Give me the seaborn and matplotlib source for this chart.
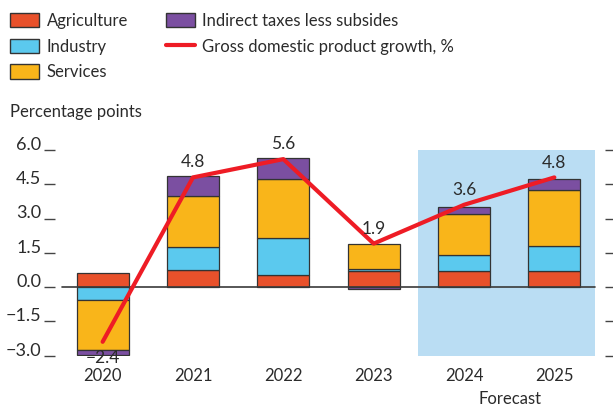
import numpy as np
import pandas as pd
import matplotlib
matplotlib.use("Agg")
import matplotlib.pyplot as plt
import seaborn as sns
from matplotlib.patches import Patch, Rectangle
from matplotlib.lines import Line2D

years = ["2020", "2021", "2022", "2023", "2024", "2025"]
agriculture = [0.63, 0.73, 0.54, 0.69, 0.72, 0.68]
industry = [-0.58, 1.00, 1.61, 0.10, 0.66, 1.10]
services = [-2.17, 2.25, 2.57, 1.11, 1.81, 2.45]
indirect = [-0.22, 0.86, 0.91, -0.10, 0.32, 0.49]
gdp = [-2.4, 4.8, 5.6, 1.9, 3.6, 4.8]
gdp_labels = ["\u22122.4", "4.8", "5.6", "1.9", "3.6", "4.8"]
yticks = [-3.0, -1.5, 0.0, 1.5, 3.0, 4.5, 6.0]
ytick_labels = ["\u22123.0", "\u22121.5", "0.0", "1.5", "3.0", "4.5", "6.0"]

sns.set_style("white")
plt.rcParams["font.family"] = ["Lato", "DejaVu Sans"]
plt.rcParams["ytick.alignment"] = "baseline"

C_AGR = "#E8512B"
C_IND = "#5BC9EE"
C_SER = "#F9B51A"
C_TAX = "#7B4FA1"
C_GDP = "#EE1C25"
C_SHADE = "#BADDF3"
C_TXT = "#2b2b2b"
EDGE = "#333333"

fig = plt.figure(figsize=(6.13, 4.07), dpi=100)
ax = fig.add_axes([62/613, (407-355.5)/407, (595-62)/613, (355.5-150)/407])

x = np.arange(len(years))
ax.add_patch(Rectangle((3.49, -3.0), 5.45 - 3.49, 9.0, facecolor=C_SHADE,
                       edgecolor="none", zorder=0))

series = [("Agriculture", agriculture, C_AGR), ("Industry", industry, C_IND),
          ("Services", services, C_SER), ("Indirect taxes less subsides", indirect, C_TAX)]
pos_base = np.zeros(len(years))
neg_base = np.zeros(len(years))
for name, vals, col in series:
    v = np.array(vals)
    bottoms = np.where(v >= 0, pos_base, neg_base)
    df = pd.DataFrame({"year": years, "val": v})
    sns.barplot(data=df, x="year", y="val", bottom=bottoms, color=col,
                saturation=1, width=0.575, edgecolor=EDGE, linewidth=0.9,
                errorbar=None, ax=ax, zorder=2)
    pos_base = pos_base + np.where(v >= 0, v, 0)
    neg_base = neg_base + np.where(v < 0, v, 0)

ax.plot([-0.45, 5.45], [0, 0], color="#3a3a3a", lw=1.2, zorder=3, clip_on=False)
ax.plot(x, gdp, color=C_GDP, lw=3.0, zorder=4, solid_capstyle="round")

tops = np.maximum(pos_base, np.array(gdp))
for i, lab in enumerate(gdp_labels):
    if gdp[i] < 0:
        ax.text(x[i], -3.12, lab, ha="center", va="center", fontsize=12.5,
                color=C_TXT, zorder=5, clip_on=False)
    else:
        ax.text(x[i], tops[i] + 0.65, lab, ha="center", va="center", fontsize=12.5,
                color=C_TXT, zorder=5, clip_on=False)

ax.set_xlim(-0.45, 5.45)
ax.set_ylim(-3.0, 6.0)
ax.set_xticks(x)
ax.set_xticklabels(years)
ax.tick_params(axis="x", length=0, pad=9, labelsize=12, labelcolor=C_TXT)
ax.set_yticks(yticks)
ax.set_yticklabels(ytick_labels)
ax.tick_params(axis="y", direction="out", length=8, width=1.0, color="#444444",
               pad=2, left=True, right=True, labelright=False,
               labelsize=13, labelcolor=C_TXT)
for s in ["top", "bottom"]:
    ax.spines[s].set_visible(False)
ax.spines["left"].set_position(("outward", 5))
ax.spines["right"].set_position(("outward", 7))
ax.spines["left"].set_color("none")
ax.spines["right"].set_color("none")
ax.set_xlabel("")
ax.set_ylabel("")
ax.grid(False)

fig.text(10/613, 1 - 112/407, "Percentage points", fontsize=12, color=C_TXT,
         ha="left", va="center")
fig.text(510/613, 1 - 399/407, "Forecast", fontsize=12, color=C_TXT,
         ha="center", va="center")

handles = [Patch(facecolor=C_AGR, edgecolor=EDGE, lw=1.0),
           Patch(facecolor=C_IND, edgecolor=EDGE, lw=1.0),
           Patch(facecolor=C_SER, edgecolor=EDGE, lw=1.0),
           Patch(facecolor=C_TAX, edgecolor=EDGE, lw=1.0),
           Line2D([0], [0], color=C_GDP, lw=3.0)]
labels = ["Agriculture", "Industry", "Services", "Indirect taxes less subsides",
          "Gross domestic product growth, %"]
leg = fig.legend(handles, labels, loc="upper left", bbox_to_anchor=(0.0, 0.993),
                 ncol=2, frameon=False, fontsize=12, handlelength=1.75,
                 handleheight=0.95, labelspacing=0.58, columnspacing=2.25,
                 handletextpad=0.45, borderaxespad=0.3, borderpad=0.3)
for t in leg.get_texts():
    t.set_color(C_TXT)

fig.savefig("out.png", dpi=100)
